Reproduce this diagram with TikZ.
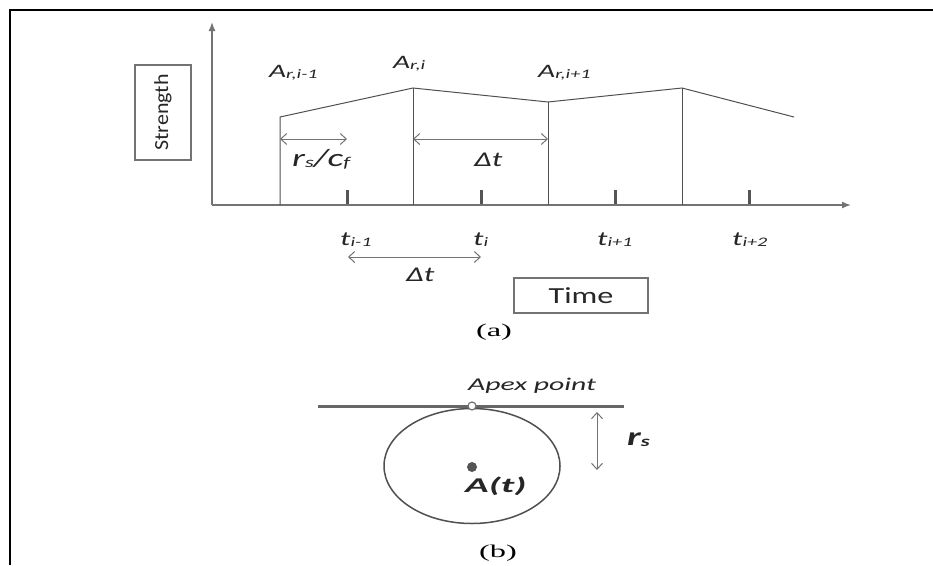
\documentclass[tikz,border=0pt]{standalone}
\usepackage{fontspec}
\setmainfont{Carlito}
\newfontfamily\serifrm{Liberation Serif}
\usetikzlibrary{arrows.meta,shapes.geometric}
\definecolor{ln}{RGB}{80,80,80}
\definecolor{ax}{RGB}{115,115,115}
\definecolor{tk}{RGB}{85,85,85}
\newcommand{\hstr}[2]{\scalebox{#1}[1]{#2}}
\newcommand{\fs}[1]{\fontsize{#1}{#1}\selectfont}
\tikzset{
  lab/.style={inner sep=0pt, anchor=base west, text=black!85},
  profile/.style={draw=ln, line width=1pt},
  axisline/.style={draw=ax, line width=1.4pt, -{Latex[length=9pt,width=7pt]}},
  tick/.style={draw=tk, line width=3pt},
  dim/.style={draw=ax, line width=1pt, {Straight Barb[length=6pt,width=11pt]}-{Straight Barb[length=6pt,width=11pt]}},
  tbox/.style={draw=ax, line width=1.3pt, inner sep=0pt},
}
\begin{document}
\begin{tikzpicture}[x=1pt,y=-1pt]
\useasboundingbox (0,0) rectangle (933,565);
\fill[white] (0,0) rectangle (933,565);
% frame (top and left edges)
\draw[black, line width=2pt] (10,565) -- (10,9.5) -- (933,9.5);

% ---------- (a) ----------
\coordinate (O) at (212,205);
\coordinate (Ytop) at (212,22);
\coordinate (Xend) at (851,205);
\draw[axisline] (O) -- (Ytop);
\draw[axisline] (O) -- (Xend);

% profile
\coordinate (p1) at (280,117);
\coordinate (p2) at (413,88);
\coordinate (p3) at (548,102);
\coordinate (p4) at (682,88);
\coordinate (p5) at (794,117);
\coordinate (b1) at (280,205);
\coordinate (b2) at (413,205);
\coordinate (b3) at (548,205);
\coordinate (b4) at (682,205);
\draw[profile] (b1) -- (p1) -- (p2) -- (p3) -- (p4) -- (p5);
\draw[profile] (b2) -- (p2);
\draw[profile] (b3) -- (p3);
\draw[profile] (b4) -- (p4);

% ticks
\foreach \x/\n in {347/k1,481/k2,615/k3,749/k4}{
  \coordinate (\n a) at (\x,190);
  \coordinate (\n b) at (\x,204);
  \draw[tick] (\n a) -- (\n b);
}

% dimension arrows
\coordinate (d1a) at (280,139);
\coordinate (d1b) at (347,139);
\coordinate (d2a) at (413,139);
\coordinate (d2b) at (548,139);
\coordinate (d3a) at (348,257);
\coordinate (d3b) at (481,257);
\draw[dim] (d1a) -- (d1b);
\draw[dim] (d2a) -- (d2b);
\draw[dim] (d3a) -- (d3b);

% labels
\node[lab] (Aim1) at (269,77) {\hstr{1.55}{\fs{19}\itshape A\raisebox{-1pt}{\fs{13}r,i-1}}};
\node[lab] (Ai) at (393,68) {\hstr{1.55}{\fs{19}\itshape A\raisebox{-1pt}{\fs{13}r,i}}};
\node[lab] (Aip1) at (538,77) {\hstr{1.55}{\fs{19}\itshape A\raisebox{-1pt}{\fs{13}r,i+1}}};
\node[lab] (rc) at (292,166) {\hstr{1.5}{\fs{25}\itshape r\raisebox{-1pt}{\fs{15}s}/c\raisebox{-1pt}{\fs{15}f}}};
\node[lab] (dt1) at (474,166) {\hstr{1.5}{\fs{21}\itshape Δt}};
\node[lab] (dt2) at (406,281) {\hstr{1.5}{\fs{21}\itshape Δt}};
\node[lab] (tim1) at (340,245) {\hstr{1.55}{\fs{20}\itshape t\raisebox{-1pt}{\fs{13}i-1}}};
\node[lab] (ti) at (473,245) {\hstr{1.55}{\fs{20}\itshape t\raisebox{-1pt}{\fs{13}i}}};
\node[lab] (tip1) at (597,245) {\hstr{1.55}{\fs{20}\itshape t\raisebox{-1pt}{\fs{13}i+1}}};
\node[lab] (tip2) at (732,245) {\hstr{1.55}{\fs{20}\itshape t\raisebox{-1pt}{\fs{13}i+2}}};

% boxes
\node[tbox, minimum width=56pt, minimum height=95pt] (Sbox) at (163,112.5) {};
\node[inner sep=0pt, rotate=90, text=black!85] (S) at (163,112.5) {\hstr{1.1}{\fs{20}Strength}};
\node[tbox, minimum width=134pt, minimum height=35pt] (Tbox) at (581,295.5) {};
\node[inner sep=0pt, text=black!85] (T) at (581,295.5) {\hstr{1.4}{\fs{23}Time}};
\node[inner sep=0pt, anchor=base] (capa) at (494,336) {\hstr{1.8}{\serifrm\fs{18}(a)}};

% ---------- (b) ----------
\coordinate (hl) at (318,406);
\coordinate (hr) at (624,406);
\draw[draw=ax!90!black, line width=3pt] (hl) -- (hr);
\node[draw=ln, line width=1.5pt, ellipse, minimum width=176pt, minimum height=115pt, inner sep=0pt] (circ) at (472,466) {};
\node[circle, draw=ax, fill=white, line width=1.2pt, minimum size=8pt, inner sep=0pt] (apex) at (472,406) {};
\node[circle, fill=tk, minimum size=10pt, inner sep=0pt] (ctr) at (472,467) {};
\node[lab] (apl) at (468,390) {\hstr{1.65}{\fs{18}\itshape Apex point}};
\node[lab] (At) at (465,492) {\hstr{1.85}{\fs{21}\bfseries\itshape A(t)}};
\coordinate (ra) at (597,412);
\coordinate (rb) at (597,470);
\draw[dim] (ra) -- (rb);
\node[lab] (rs) at (627,445) {\hstr{1.5}{\fs{26}\bfseries\itshape r\raisebox{-1pt}{\fs{15}s}}};
\node[inner sep=0pt, anchor=base] (capb) at (498,557) {\hstr{1.8}{\serifrm\fs{18}(b)}};
\end{tikzpicture}
\end{document}
